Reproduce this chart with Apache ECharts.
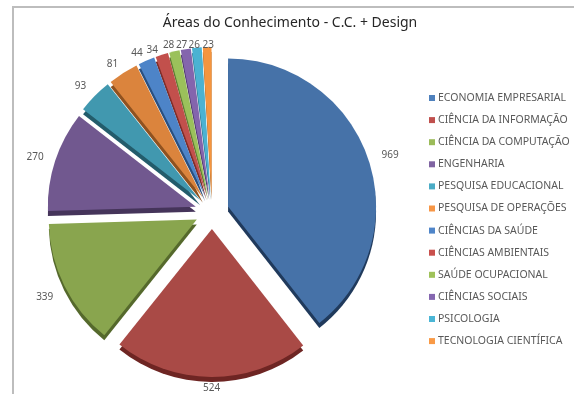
<!DOCTYPE html>
<html>
<head>
<meta charset="utf-8">
<script src="https://cdn.jsdelivr.net/npm/echarts@6/dist/echarts.min.js"></script>
<style>
  html, body { margin: 0; padding: 0; background: #fff; }
  #chart { width: 574px; height: 394px; }
</style>
</head>
<body>
<div id="chart"></div>
<script>
// Knowledge areas and publication counts
const categories = [
  'ECONOMIA EMPRESARIAL', 'CIÊNCIA DA INFORMAÇÃO', 'CIÊNCIA DA COMPUTAÇÃO',
  'ENGENHARIA', 'PESQUISA EDUCACIONAL', 'PESQUISA DE OPERAÇÕES',
  'CIÊNCIAS DA SAÚDE', 'CIÊNCIAS AMBIENTAIS', 'SAÚDE OCUPACIONAL',
  'CIÊNCIAS SOCIAIS', 'PSICOLOGIA', 'TECNOLOGIA CIENTÍFICA'
];
const counts = [969, 524, 339, 270, 93, 81, 44, 34, 28, 27, 26, 23];

// Face colours, side (depth) colours and legend swatch colours
const faceColors = ['#4672a8', '#a94a46', '#89a54e', '#71588f', '#4198af', '#db843d',
                    '#4d84c8', '#c2504c', '#9bc15b', '#8465ad', '#4bb2d2', '#f5953f'];
const sideColors = ['#203a5c', '#6e2523', '#55692c', '#45345a', '#235c6b', '#8f5220',
                    '#2a4f7e', '#7e2d2a', '#5f7a33', '#50396c', '#27708a', '#a35f22'];
const legendColors = ['#4f81bd', '#c0504d', '#9bbb59', '#8064a2', '#4bacc6', '#f79646',
                      '#4f85c9', '#c9504d', '#9fc25a', '#8567b0', '#4bb6d6', '#f99a46'];

// Small offsets (px) applied to each value label after the pie places it
const labelNudge = [[-2, 0], [16, 2], [4, 7], [4, -1], [5, -4], [7, -1],
                    [7, 1], [6, 4], [9, 3], [10, 5], [11, 6], [14, 7]];

const CENTER = [212, 212];
const DEPTH = 5;
const RADIUS = 148;
const OFFSET = 17;

function sliceData(colors) {
  return categories.map((name, i) => ({
    name: name,
    value: counts[i],
    selected: true,
    itemStyle: { color: colors[i] }
  }));
}

const chart = echarts.init(document.getElementById('chart'), null, { renderer: 'canvas' });

chart.setOption({
  animation: false,
  backgroundColor: '#ffffff',
  title: {
    text: 'Áreas do Conhecimento - C.C. + Design',
    left: 285,
    textAlign: 'center',
    top: 11,
    textStyle: {
      fontFamily: 'Noto Sans',
      fontSize: 14,
      fontWeight: 'normal',
      color: '#262626'
    }
  },
  graphic: [{
    type: 'rect',
    silent: true,
    z: -10,
    shape: { x: 13, y: 7, width: 620, height: 420 },
    style: { fill: 'none', stroke: '#bdbdbd', lineWidth: 2 }
  }],
  legend: {
    orient: 'vertical',
    left: 424,
    top: 87,
    itemWidth: 6,
    itemHeight: 6,
    itemGap: 10.1,
    icon: 'rect',
    selectedMode: false,
    textStyle: {
      fontFamily: 'Noto Sans',
      fontSize: 10.5,
      lineHeight: 12,
      color: '#595959',
      padding: [0, 0, 0, -2]
    },
    data: categories.map((name, i) => ({ name: name, itemStyle: { color: legendColors[i] } }))
  },
  series: [
    {
      // top faces of the slices
      type: 'pie',
      z: 3,
      center: CENTER,
      radius: [0, RADIUS],
      startAngle: 90,
      clockwise: true,
      selectedMode: 'multiple',
      selectedOffset: OFFSET,
      avoidLabelOverlap: false,
      silent: true,
      emphasis: { disabled: true },
      label: {
        show: true,
        position: 'outside',
        formatter: '{c}',
        fontFamily: 'Noto Sans',
        fontSize: 10,
        color: '#595959'
      },
      labelLine: { show: false, length: 9, length2: 2 },
      labelLayout: function (params) {
        const n = labelNudge[params.dataIndex] || [0, 0];
        return { hideOverlap: false, moveOverlap: null, dx: n[0], dy: n[1] };
      },
      itemStyle: { borderWidth: 0 },
      data: sliceData(faceColors)
    },
    {
      // darker copy shifted down to give the slices their depth
      type: 'pie',
      z: 1,
      center: [CENTER[0], CENTER[1] + DEPTH],
      radius: [0, RADIUS],
      startAngle: 90,
      clockwise: true,
      selectedMode: 'multiple',
      selectedOffset: OFFSET,
      silent: true,
      emphasis: { disabled: true },
      label: { show: false },
      labelLine: { show: false },
      itemStyle: { borderWidth: 0 },
      data: sliceData(sideColors)
    }
  ]
});
</script>
</body>
</html>
